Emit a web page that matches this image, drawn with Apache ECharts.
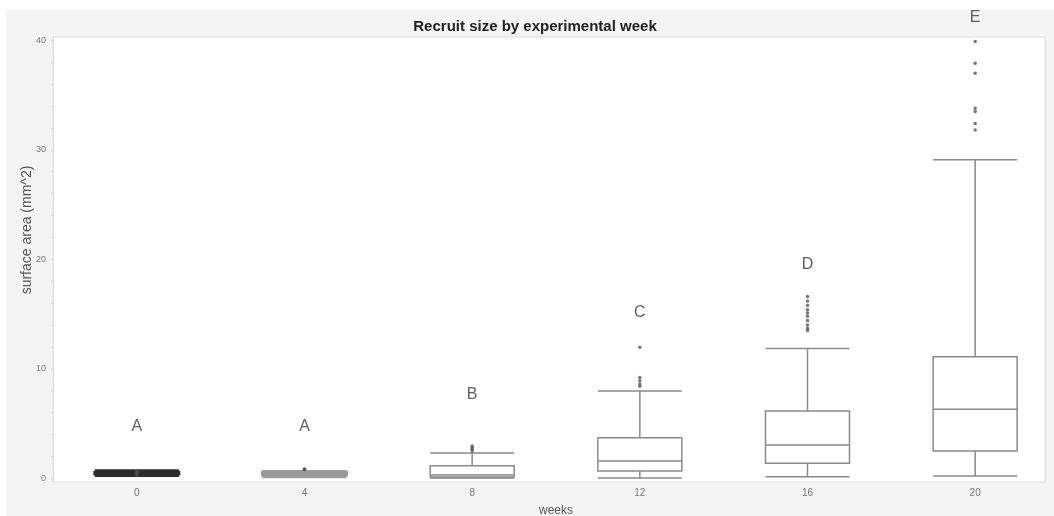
<!DOCTYPE html>
<html>
<head>
<meta charset="utf-8">
<title>Recruit size by experimental week</title>
<script src="https://cdn.jsdelivr.net/npm/echarts@6/dist/echarts.min.js"></script>
<style>
  html, body { margin: 0; padding: 0; background: #ffffff; }
  #chart { width: 1054px; height: 516px; }
</style>
</head>
<body>
<div id="chart"></div>
<script>
// Experimental weeks (x categories)
const weeks = ['0', '4', '8', '12', '16', '20'];

// Box statistics per week: [lower whisker, Q1, median, Q3, upper whisker] (mm^2)
const week0Box  = [0.25, 0.38, 0.45, 0.55, 0.68];
const week4Box  = [0.15, 0.30, 0.40, 0.55, 0.62];
const week8Box  = [0.02, 0.12, 0.30, 1.15, 2.30];
const week12Box = [0.02, 0.67, 1.58, 3.70, 7.97];
const week16Box = [0.15, 1.37, 3.04, 6.15, 11.85];
const week20Box = [0.20, 2.50, 6.30, 11.10, 29.10];

// Outlying recruits per week
const week0Out  = [0.30, 0.50, 0.60, 0.72];
const week4Out  = [0.80, 0.82, 0.85];
const week8Out  = [2.50, 2.65, 2.80, 2.95];
const week12Out = [8.40, 8.60, 8.90, 9.20, 11.96];
const week16Out = [13.5, 13.7, 14.0, 14.4, 14.8, 15.1, 15.4, 15.8, 16.2, 16.6];
const week20Out = [31.8, 32.4, 33.5, 33.8, 37.0, 37.9, 39.9];

// Significance group letters and the height where each is written
const groupLetters = ['A', 'A', 'B', 'C', 'D', 'E'];
const letterHeights = [4.7, 4.7, 7.6, 15.1, 19.5, 42.1];

// Axis tick labels
const yTickLabels = [0, 10, 20, 30, 40];
const yMinorTicks = [0, 2, 4, 6, 8, 10, 12, 14, 16, 18, 20, 22, 24, 26, 28, 30, 32, 34, 36, 38, 40];

const boxes = [week0Box, week4Box, week8Box, week12Box, week16Box, week20Box];
const outlierLists = [week0Out, week4Out, week8Out, week12Out, week16Out, week20Out];

const boxStyles = [
  { borderColor: '#2e2e2e', borderWidth: 3, color: '#2e2e2e' },
  { borderColor: '#9a9a9a', borderWidth: 3, color: '#9a9a9a' },
  { borderColor: '#8a8a8a', borderWidth: 1.5, color: '#ffffff' },
  { borderColor: '#8a8a8a', borderWidth: 1.5, color: '#ffffff' },
  { borderColor: '#8a8a8a', borderWidth: 1.5, color: '#ffffff' },
  { borderColor: '#8a8a8a', borderWidth: 1.5, color: '#ffffff' }
];

const boxData = boxes.map((b, i) => ({ value: b, itemStyle: boxStyles[i] }));

const outlierData = [];
outlierLists.forEach((list, i) => {
  list.forEach(v => outlierData.push([weeks[i], v]));
});

const letterData = groupLetters.map((l, i) => ({ value: [weeks[i], letterHeights[i]], letter: l }));

const FONT = 'Liberation Sans, Arial, sans-serif';

const chart = echarts.init(document.getElementById('chart'), null, { renderer: 'canvas' });

chart.setOption({
  animation: false,
  backgroundColor: '#ffffff',
  graphic: [
    {
      // light frame around the whole figure
      type: 'rect', z: -10, silent: true,
      shape: { x: 6, y: 10, width: 1048, height: 506 },
      style: { fill: '#f4f4f4' }
    },
    {
      // white plotting panel
      type: 'rect', z: -9, silent: true,
      shape: { x: 53, y: 37, width: 992, height: 445 },
      style: { fill: '#ffffff', stroke: '#dedede', lineWidth: 1 }
    },
    {
      type: 'text', x: 535, y: 19, z: 10, silent: true,
      style: {
        text: 'Recruit size by experimental week',
        font: 'bold 15px ' + FONT,
        fill: '#222222', textAlign: 'center', textVerticalAlign: 'top'
      }
    },
    {
      type: 'text', x: 27, y: 230, rotation: Math.PI / 2, z: 10, silent: true,
      style: {
        text: 'surface area (mm^2)',
        font: '14px ' + FONT,
        fill: '#555555', textAlign: 'center', textVerticalAlign: 'middle'
      }
    }
  ],
  grid: { left: 53, top: 37, width: 1006, height: 445, show: false, outerBoundsMode: 'none', containLabel: false },
  xAxis: {
    type: 'category',
    data: weeks,
    boundaryGap: true,
    name: 'weeks',
    nameLocation: 'middle',
    nameGap: 23,
    nameTextStyle: { color: '#555555', fontSize: 12, fontFamily: FONT },
    axisLine: { show: false, onZero: false },
    axisTick: { show: false },
    axisLabel: { color: '#777777', fontSize: 10, margin: 6, fontFamily: FONT },
    splitLine: { show: false }
  },
  yAxis: {
    type: 'value',
    min: -0.34,
    max: 40.3,
    axisLine: { show: true, lineStyle: { color: '#e0e0e0', width: 1 } },
    axisTick: { show: true, customValues: yMinorTicks, length: 2, lineStyle: { color: '#d6d6d6' } },
    axisLabel: { customValues: yTickLabels, color: '#777777', fontSize: 9, margin: 7, fontFamily: FONT },
    splitLine: { show: false }
  },
  series: [
    {
      type: 'boxplot',
      data: boxData,
      boxWidth: [84, 84],
      itemStyle: { borderColor: '#8a8a8a', borderWidth: 1.5, color: '#ffffff' },
      emphasis: { disabled: true }
    },
    {
      type: 'scatter',
      data: outlierData,
      symbol: 'circle',
      symbolSize: 3.5,
      itemStyle: { color: '#555555' },
      z: 5
    },
    {
      type: 'scatter',
      data: letterData,
      symbolSize: 0,
      clip: false,
      z: 20,
      label: {
        show: true,
        position: 'inside',
        formatter: p => p.data.letter,
        color: '#333333',
        fontSize: 16,
        fontFamily: FONT
      }
    }
  ]
});
</script>
</body>
</html>
